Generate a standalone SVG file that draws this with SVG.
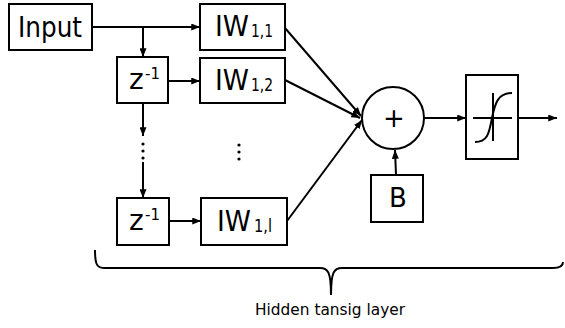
<svg xmlns="http://www.w3.org/2000/svg" width="565" height="328" viewBox="0 0 565 328">
<defs>
<marker id="ah" viewBox="0 0 10 8" refX="10" refY="4" markerWidth="9" markerHeight="7" markerUnits="userSpaceOnUse" orient="auto">
<path d="M0,0 L10,4 L0,8 Z" fill="#000"/>
</marker>
<style>
.box{fill:#fff;stroke:#000;stroke-width:2}
.ln{fill:none;stroke:#000;stroke-width:2}
.arr{fill:none;stroke:#000;stroke-width:2;marker-end:url(#ah)}
.lbl{font-family:"DejaVu Sans","Verdana",sans-serif;fill:#000}
.dot{fill:#000}
</style>
</defs>
<rect width="565" height="328" fill="#fff"/>
<g id="connectors">
<line class="arr" x1="92" y1="27" x2="200" y2="27"/>
<line class="arr" x1="143" y1="27" x2="143" y2="57"/>
<line class="arr" x1="168" y1="81" x2="200" y2="81"/>
<line class="arr" x1="143" y1="103" x2="143" y2="136"/>
<line class="arr" x1="143" y1="162" x2="143" y2="198"/>
<line class="arr" x1="169" y1="221" x2="201" y2="221"/>
<line class="arr" x1="285" y1="28" x2="361" y2="116"/>
<line class="arr" x1="285" y1="80" x2="360" y2="118"/>
<line class="arr" x1="287" y1="221" x2="362" y2="120"/>
<line class="arr" x1="396" y1="175" x2="395" y2="150"/>
<line class="arr" x1="424" y1="118" x2="466" y2="118"/>
<line class="arr" x1="518" y1="118" x2="557" y2="118"/>
<circle class="dot" cx="143" cy="144" r="1.6"/>
<circle class="dot" cx="143" cy="151" r="1.6"/>
<circle class="dot" cx="143" cy="158" r="1.6"/>
</g>
<g id="input">
<rect class="box" x="9" y="4" width="83" height="46"/>
<text class="lbl" x="18" y="37" font-size="28" textLength="64" lengthAdjust="spacingAndGlyphs">Input</text>
</g>
<g id="iw11">
<rect class="box" x="200" y="4" width="85" height="46"/>
<text class="lbl" x="215" y="36" font-size="28"><tspan textLength="34" lengthAdjust="spacingAndGlyphs">IW</tspan><tspan x="251" y="37" font-size="18" textLength="22" lengthAdjust="spacingAndGlyphs">1,1</tspan></text>
</g>
<g id="z1">
<rect class="box" x="117" y="57" width="51" height="46"/>
<text class="lbl" x="129" y="89" font-size="28">z<tspan x="145" y="79" font-size="15">-1</tspan></text>
</g>
<g id="iw12">
<rect class="box" x="200" y="58" width="85" height="45"/>
<text class="lbl" x="215" y="90" font-size="28"><tspan textLength="34" lengthAdjust="spacingAndGlyphs">IW</tspan><tspan x="251" y="91" font-size="18" textLength="22" lengthAdjust="spacingAndGlyphs">1,2</tspan></text>
</g>
<g id="dots2">
<circle class="dot" cx="239" cy="145" r="1.6"/>
<circle class="dot" cx="239" cy="152" r="1.6"/>
<circle class="dot" cx="239" cy="159" r="1.6"/>
</g>
<g id="z2">
<rect class="box" x="117" y="198" width="52" height="47"/>
<text class="lbl" x="129" y="230" font-size="28">z<tspan x="145" y="220" font-size="15">-1</tspan></text>
</g>
<g id="iw1l">
<rect class="box" x="201" y="198" width="86" height="47"/>
<text class="lbl" x="217" y="231" font-size="28"><tspan textLength="34" lengthAdjust="spacingAndGlyphs">IW</tspan><tspan x="254" y="232" font-size="18" textLength="18" lengthAdjust="spacingAndGlyphs">1,l</tspan></text>
</g>
<g id="sum">
<circle class="box" cx="393" cy="118" r="31"/>
<text class="lbl" x="394" y="127" font-size="26" text-anchor="middle">+</text>
</g>
<g id="bias">
<rect class="box" x="371" y="175" width="52" height="47"/>
<text class="lbl" x="398" y="207" font-size="26" text-anchor="middle">B</text>
</g>
<g id="tansig">
<rect class="box" x="466" y="75" width="52" height="84"/>
<line class="ln" x1="473" y1="118" x2="512" y2="118" stroke-width="1.5"/>
<line class="ln" x1="493" y1="93" x2="493" y2="141" stroke-width="1.5"/>
<path class="ln" stroke-width="1.5" d="M475,142 C488,142 489,133 492,118 C495,103 498,93 512,93"/>
</g>
<g id="brace">
<path class="ln" d="M95,250 C95,265 97,268 105,268 L320,268 C328,268 331,272 331,295 C331,272 334,268 342,268 L553,268 C560,268 563,266 563,262"/>
<text class="lbl" x="255" y="315" font-size="15.4" textLength="150" lengthAdjust="spacingAndGlyphs">Hidden tansig layer</text>
</g>
</svg>
